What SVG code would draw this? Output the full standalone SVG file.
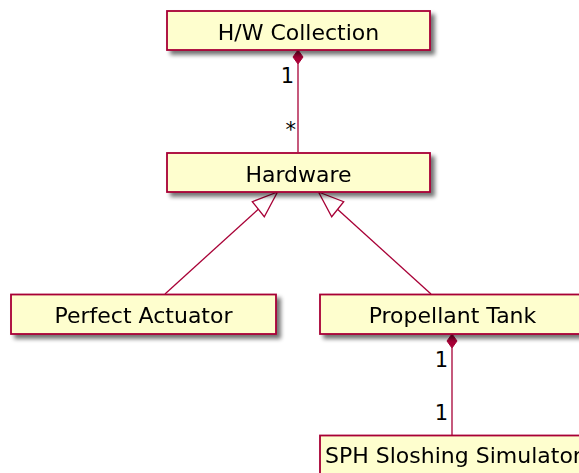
<svg xmlns="http://www.w3.org/2000/svg" width="579" height="473" viewBox="0 0 579 473">
  <defs>
    <filter id="shadow" x="-10%" y="-30%" width="130%" height="180%">
      <feGaussianBlur in="SourceAlpha" stdDeviation="2"/>
      <feOffset dx="4" dy="4" result="b"/>
      <feComponentTransfer><feFuncA type="linear" slope="0.55"/></feComponentTransfer>
      <feMerge><feMergeNode/><feMergeNode in="SourceGraphic"/></feMerge>
    </filter>
  </defs>
  <style>
    .box { fill: #FEFECE; stroke: #A80036; stroke-width: 1.8; }
    .name { font-family: "DejaVu Sans", Verdana, sans-serif; font-size: 22px; fill: #000; text-anchor: middle; }
    .mult { font-family: "DejaVu Sans", Verdana, sans-serif; font-size: 21px; fill: #000; text-anchor: end; }
    .edge { stroke: #A80036; stroke-width: 1.3; fill: none; }
    .diamond { fill: #A80036; stroke: #A80036; stroke-width: 1; }
    .tri { fill: #FFFFFF; stroke: #A80036; stroke-width: 1.3; }
  </style>

  <g id="connectors">
    <!-- H/W Collection composes Hardware -->
    <line class="edge" x1="298" y1="64" x2="298" y2="152"/>
    <polygon class="diamond" points="298,50 303,57 298,64 293,57"/>
    <text class="mult" x="294" y="83">1</text>
    <text class="mult" x="296" y="137">*</text>

    <!-- Perfect Actuator generalizes Hardware -->
    <line class="edge" x1="258.3" y1="209.2" x2="165" y2="294"/>
    <polygon class="tri" points="277.5,192 252.3,201.7 264.3,216.7"/>

    <!-- Propellant Tank generalizes Hardware -->
    <line class="edge" x1="337.5" y1="209.2" x2="431" y2="294"/>
    <polygon class="tri" points="318.5,192 343.7,201.7 331.7,216.7"/>

    <!-- Propellant Tank composes SPH Sloshing Simulator -->
    <line class="edge" x1="452" y1="348" x2="452" y2="435"/>
    <polygon class="diamond" points="452,334 457,341 452,348 447,341"/>
    <text class="mult" x="448" y="367">1</text>
    <text class="mult" x="448" y="420">1</text>
  </g>

  <g id="hw-collection" filter="url(#shadow)">
    <rect class="box" x="167" y="11" width="263" height="39"/>
    <text class="name" x="298.5" y="40">H/W Collection</text>
  </g>

  <g id="hardware" filter="url(#shadow)">
    <rect class="box" x="167" y="153" width="263" height="39"/>
    <text class="name" x="298.5" y="182">Hardware</text>
  </g>

  <g id="perfect-actuator" filter="url(#shadow)">
    <rect class="box" x="11" y="294.5" width="265" height="39.5"/>
    <text class="name" x="143.5" y="323">Perfect Actuator</text>
  </g>

  <g id="propellant-tank" filter="url(#shadow)">
    <rect class="box" x="320" y="294.5" width="265" height="39.5"/>
    <text class="name" x="452.5" y="323">Propellant Tank</text>
  </g>

  <g id="sph-sloshing-simulator" filter="url(#shadow)">
    <rect class="box" x="320" y="435.5" width="290" height="39.5"/>
    <text class="name" x="325" y="463" style="text-anchor:start">SPH Sloshing Simulator</text>
  </g>
</svg>
